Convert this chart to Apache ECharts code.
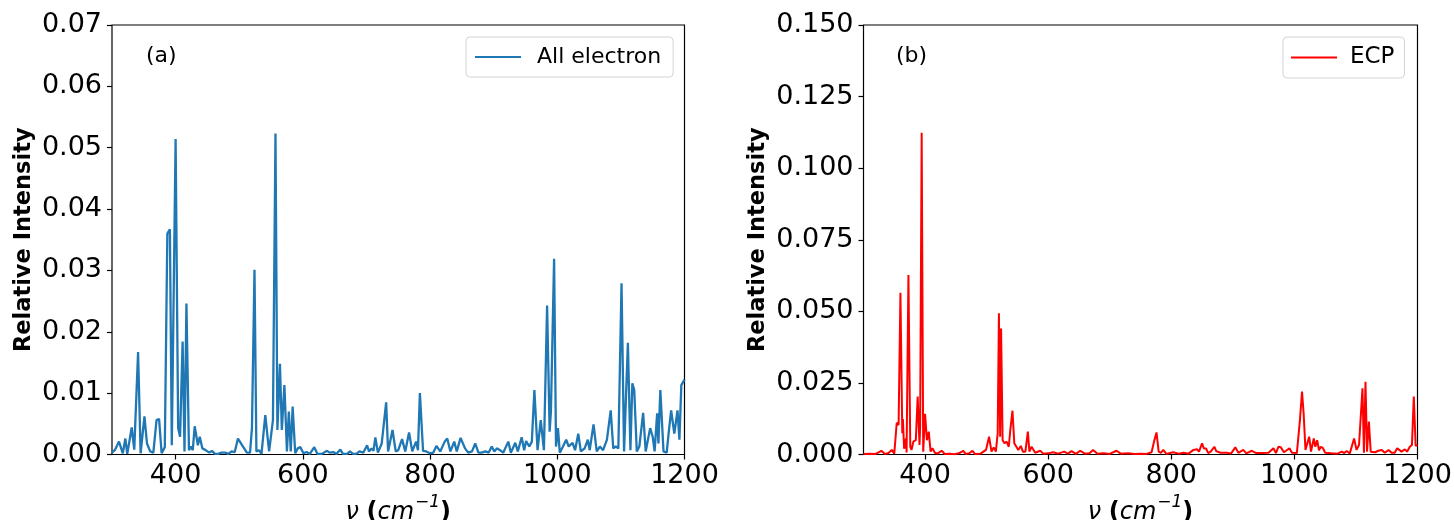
<!DOCTYPE html>
<html>
<head>
<meta charset="utf-8">
<script src="https://cdn.jsdelivr.net/npm/echarts@6/dist/echarts.min.js"></script>
<style>
  html, body { margin: 0; padding: 0; background: #fff; }
  #chart { width: 1454px; height: 520px; }
</style>
</head>
<body>
<div id="chart"></div>
<script>
// (a) All-electron spectrum: wavenumber (cm^-1) and relative intensity
const aeFreq = [300,305,311,317,321,324,331,335,341,345,351,355,360,365,370,374,378,383,387,391,394,400,404,407,411,414,417,421,424,427,430,435,438,442,446,449,453,457,462,467,472,478,483,488,493,498,501,506,512,517,520,524,527,531,535,541,544,547,553,557,560,564,567,571,575,578,581,584,588,592,596,601,606,611,618,623,630,638,642,648,653,659,663,670,674,679,684,689,695,701,704,708,711,714,718,724,731,734,741,746,750,756,761,767,772,778,781,784,789,794,800,805,810,816,823,827,832,838,842,848,855,860,866,871,876,881,887,892,897,901,905,910,915,923,927,934,938,944,948,951,956,960,964,969,974,979,984,988,990,995,998,1001,1004,1009,1014,1018,1024,1028,1033,1037,1043,1048,1051,1057,1062,1067,1072,1078,1084,1088,1092,1096,1101,1105,1111,1115,1118,1121,1125,1129,1135,1139,1142,1146,1150,1153,1157,1159,1162,1167,1172,1175,1179,1184,1189,1192,1195,1200];
const aeInt = [0.0003,0.0008,0.0021,0.0002,0.0026,0.0001,0.0044,0.0008,0.0167,0.0002,0.0062,0.0018,0.0005,0.0003,0.0056,0.0058,0.0002,0.0012,0.0360,0.0367,0.0015,0.0514,0.0043,0.0029,0.0184,0.0005,0.0246,0.0007,0.0013,0.0007,0.0046,0.0015,0.0029,0.0010,0.0008,0.0010,0.0003,0.0006,0.0001,0.0001,0.0003,0.0003,0.0001,0.0005,0.0004,0.0026,0.0024,0.0013,0.0003,0.0003,0.0043,0.0301,0.0005,0.0007,0.0001,0.0064,0.0034,0.0005,0.0056,0.0523,0.0040,0.0148,0.0040,0.0113,0.0005,0.0070,0.0005,0.0078,0.0002,0.0010,0.0012,0.0002,0.0004,0.0001,0.0012,0.0001,0.0001,0.0006,0.0003,0.0004,0.0001,0.0008,0.0001,0.0001,0.0005,0.0001,0.0001,0.0005,0.0003,0.0015,0.0005,0.0010,0.0006,0.0028,0.0003,0.0018,0.0085,0.0005,0.0040,0.0005,0.0007,0.0025,0.0005,0.0036,0.0005,0.0021,0.0007,0.0100,0.0006,0.0005,0.0002,0.0003,0.0014,0.0005,0.0021,0.0026,0.0005,0.0021,0.0005,0.0027,0.0010,0.0003,0.0005,0.0018,0.0003,0.0003,0.0005,0.0003,0.0013,0.0005,0.0010,0.0007,0.0003,0.0021,0.0003,0.0019,0.0005,0.0028,0.0007,0.0022,0.0013,0.0021,0.0105,0.0007,0.0056,0.0007,0.0243,0.0037,0.0070,0.0319,0.0013,0.0043,0.0003,0.0013,0.0024,0.0013,0.0019,0.0007,0.0034,0.0005,0.0010,0.0024,0.0007,0.0049,0.0005,0.0013,0.0007,0.0024,0.0072,0.0010,0.0013,0.0010,0.0279,0.0005,0.0182,0.0007,0.0116,0.0105,0.0005,0.0013,0.0068,0.0005,0.0007,0.0043,0.0029,0.0005,0.0067,0.0018,0.0105,0.0005,0.0003,0.0034,0.0072,0.0034,0.0072,0.0024,0.0113,0.0122];

// (b) ECP spectrum: wavenumber (cm^-1) and relative intensity
const ecpFreq = [300,310,320,329,335,340,346,350,354,357,360,363,364,366,369,370,373,376,378,381,385,388,391,392,394.5,397,400,403,406,409,412,416,420,427,432,440,448,455,462,466,472,477,481,490,499,504,508,511.5,515,518,520,522,523.5,526,529,532.5,536,538.5,542,545,548,551.5,555.5,559,563,567,569.5,573,579,587,592,600,608,616,626,632,638,645,652,660,667,673,680,690,700,711,718,730,740,750,760,768,772.5,776,779.5,783,787,792,803,812,820,828,836,842,845,850,853,856.5,860,864,870,873,880,890,897,904,909,917,922,931,938,948,958,966,970,974,978,983,992,996,1004,1009,1012.4,1015,1018,1021,1024,1027,1031.5,1034,1037,1040,1043,1046.5,1050,1060,1070,1077,1081,1085,1090,1097,1101,1105,1108,1110.6,1113,1115.5,1118,1121,1124,1127,1131,1136.5,1142,1147,1153,1158,1163,1167,1170,1174,1179.5,1183,1187.5,1191,1194,1197,1200];
const ecpInt = [0.0002,0.0003,0.0002,0.0013,0.0002,0.0004,0.0016,0.0003,0.0111,0.0103,0.0565,0.0074,0.0124,0.0020,0.0056,0.0007,0.0627,0.0027,0.0016,0.0045,0.0050,0.0202,0.0033,0.0097,0.1124,0.0010,0.0142,0.0050,0.0080,0.0010,0.0022,0.0006,0.0003,0.0013,0.0002,0.0003,0.0001,0.0004,0.0013,0.0002,0.0004,0.0013,0.0002,0.0003,0.0016,0.0062,0.0010,0.0025,0.0010,0.0074,0.0493,0.0062,0.0440,0.0050,0.0039,0.0045,0.0027,0.0086,0.0153,0.0039,0.0045,0.0016,0.0030,0.0010,0.0010,0.0080,0.0010,0.0027,0.0006,0.0013,0.0003,0.0004,0.0008,0.0003,0.0010,0.0003,0.0012,0.0002,0.0013,0.0003,0.0004,0.0016,0.0003,0.0004,0.0002,0.0013,0.0003,0.0004,0.0002,0.0003,0.0002,0.0008,0.0050,0.0077,0.0010,0.0006,0.0016,0.0002,0.0008,0.0003,0.0006,0.0003,0.0016,0.0018,0.0010,0.0039,0.0021,0.0021,0.0005,0.0010,0.0027,0.0012,0.0006,0.0006,0.0003,0.0025,0.0006,0.0016,0.0004,0.0013,0.0005,0.0005,0.0006,0.0022,0.0005,0.0027,0.0025,0.0008,0.0022,0.0006,0.0005,0.0120,0.0220,0.0144,0.0016,0.0010,0.0062,0.0010,0.0056,0.0027,0.0050,0.0015,0.0027,0.0022,0.0006,0.0004,0.0003,0.0010,0.0005,0.0012,0.0004,0.0056,0.0016,0.0033,0.0027,0.0231,0.0006,0.0254,0.0010,0.0115,0.0010,0.0016,0.0008,0.0013,0.0016,0.0006,0.0016,0.0006,0.0006,0.0022,0.0027,0.0010,0.0018,0.0010,0.0027,0.0033,0.0202,0.0030,0.0033];

// Axis ticks
const xTicks = [400, 600, 800, 1000, 1200];
const yMaxA = 0.07, yStepA = 0.01;
const yMaxB = 0.15, yStepB = 0.025;

const FONT = 'DejaVu Sans';
const pairs = (xs, ys) => xs.map((x, i) => [x, ys[i]]);

const chart = echarts.init(document.getElementById('chart'), null, { renderer: 'canvas' });

const xAxisCommon = (gridIndex) => ({
  type: 'value', gridIndex, min: 300, max: 1200,
  axisLine: { show: false },
  splitLine: { show: false },
  axisTick: { show: true, customValues: xTicks, length: 5, lineStyle: { color: '#000', width: 1.2 } },
  axisLabel: { customValues: xTicks, color: '#000', fontFamily: FONT, fontSize: 27, margin: 8, formatter: v => String(v) },
  name: '{i|ν} {b|(}{i|cm}{s|−1}{b|)}',
  nameLocation: 'middle', nameGap: 31,
  nameTextStyle: {
    color: '#000', fontFamily: FONT, fontSize: 24,
    rich: {
      i: { fontFamily: FONT, fontSize: 24, fontStyle: 'italic', color: '#000', verticalAlign: 'bottom' },
      b: { fontFamily: FONT, fontSize: 24, fontWeight: 'bold', color: '#000', verticalAlign: 'bottom' },
      s: { fontFamily: FONT, fontSize: 17, fontStyle: 'italic', color: '#000', verticalAlign: 'top', padding: [0, 0, 13, 1] }
    }
  }
});

const yAxisCommon = (gridIndex, max, step, digits, gap) => ({
  type: 'value', gridIndex, min: 0, max, interval: step,
  axisLine: { show: false },
  splitLine: { show: false },
  axisTick: { show: true, length: 5, lineStyle: { color: '#000', width: 1.2 } },
  axisLabel: { color: '#000', fontFamily: FONT, fontSize: 27, margin: 10, formatter: v => v.toFixed(digits) },
  name: 'Relative Intensity', nameLocation: 'middle', nameGap: gap,
  nameTextStyle: { color: '#000', fontFamily: FONT, fontSize: 22.5, fontWeight: 'bold' }
});

const legendCommon = {
  orient: 'horizontal', itemWidth: 46, itemHeight: 2,
  borderColor: '#d4d4d4', borderWidth: 1, borderRadius: 4,
  backgroundColor: 'rgba(255,255,255,0.8)',
  selectedMode: false
};

chart.setOption({
  animation: false,
  backgroundColor: '#fff',
  title: [
    { text: '(a)', left: 146, top: 45, padding: 0, textStyle: { fontFamily: FONT, fontSize: 22, fontWeight: 'normal', color: '#000' } },
    { text: '(b)', left: 896, top: 45, padding: 0, textStyle: { fontFamily: FONT, fontSize: 22, fontWeight: 'normal', color: '#000' } }
  ],
  legend: [
    Object.assign({}, legendCommon, {
      data: [{ name: 'All electron', icon: 'rect' }], left: 466, top: 37, padding: [9, 12, 9, 9],
      textStyle: { fontFamily: FONT, fontSize: 22, color: '#000', padding: [0, 0, 0, 11] }
    }),
    Object.assign({}, legendCommon, {
      data: [{ name: 'ECP', icon: 'rect' }], left: 1283, top: 37, padding: [9, 10, 9, 8],
      textStyle: { fontFamily: FONT, fontSize: 23, color: '#000', padding: [0, 0, 0, 8] }
    })
  ],
  grid: [
    { left: 112, top: 25, width: 572.5, height: 429.5, outerBoundsMode: 'none', show: true, borderColor: '#000', borderWidth: 1.2, backgroundColor: 'transparent' },
    { left: 863.5, top: 25, width: 554, height: 429.5, outerBoundsMode: 'none', show: true, borderColor: '#000', borderWidth: 1.2, backgroundColor: 'transparent' }
  ],
  xAxis: [xAxisCommon(0), xAxisCommon(1)],
  yAxis: [
    yAxisCommon(0, yMaxA, yStepA, 2, 76),
    yAxisCommon(1, yMaxB, yStepB, 3, 94)
  ],
  series: [
    {
      name: 'All electron', type: 'line', xAxisIndex: 0, yAxisIndex: 0,
      data: pairs(aeFreq, aeInt), symbol: 'none', clip: true,
      lineStyle: { color: '#1f77b4', width: 2.3 }, itemStyle: { color: '#1f77b4' }
    },
    {
      name: 'ECP', type: 'line', xAxisIndex: 1, yAxisIndex: 1,
      data: pairs(ecpFreq, ecpInt), symbol: 'none', clip: true,
      lineStyle: { color: '#ff0000', width: 2 }, itemStyle: { color: '#ff0000' }
    }
  ]
});
</script>
</body>
</html>
